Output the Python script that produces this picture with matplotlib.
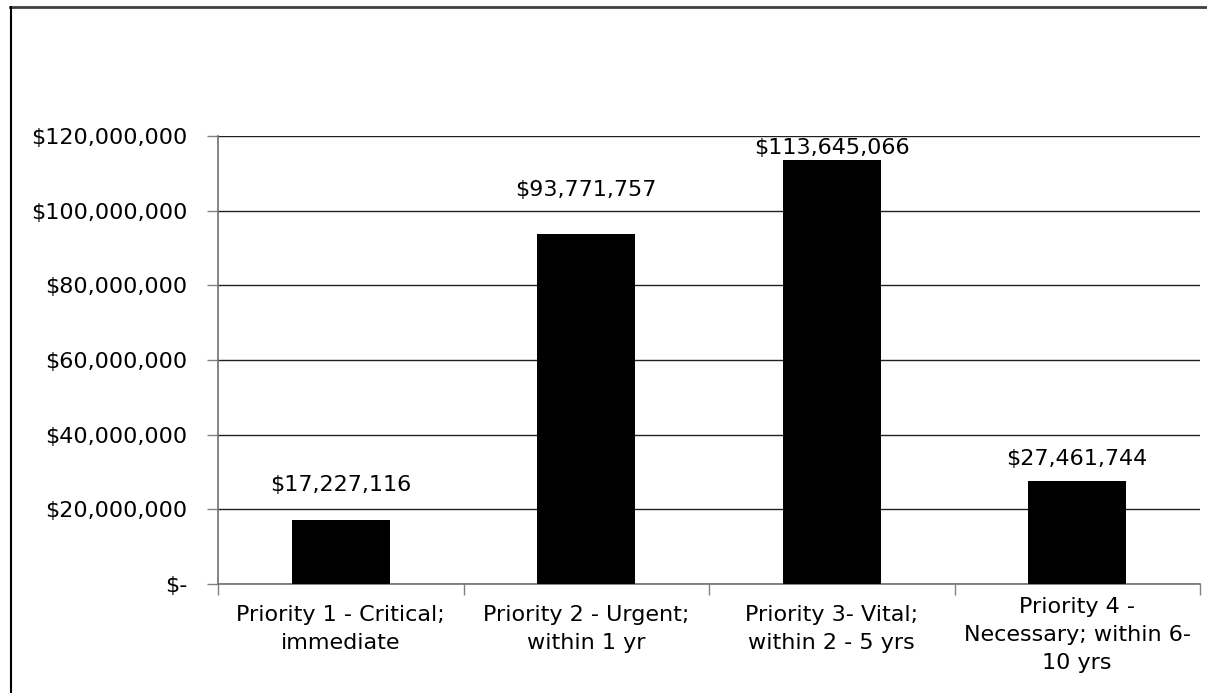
import matplotlib
matplotlib.use("Agg")
import matplotlib.pyplot as plt
from matplotlib.lines import Line2D
from matplotlib.transforms import ScaledTranslation
import numpy as np

categories = ["Priority 1 - Critical;\nimmediate",
              "Priority 2 - Urgent;\nwithin 1 yr",
              "Priority 3- Vital;\nwithin 2 - 5 yrs",
              "Priority 4 -\nNecessary; within 6-\n10 yrs"]
values = [17227116, 93771757, 113645066, 27461744]
value_labels = ["$17,227,116", "$93,771,757", "$113,645,066", "$27,461,744"]
y_ticks = [0, 20000000, 40000000, 60000000, 80000000, 100000000, 120000000]
y_tick_labels = ["$-", "$20,000,000", "$40,000,000", "$60,000,000",
                 "$80,000,000", "$100,000,000", "$120,000,000"]
# vertical offset (pixels) of each value label centre above its bar top
label_offsets_px = [35, 44, 12, 22]

plt.rcParams['font.family'] = ['DejaVu Sans']
W, H = 1207, 693
fig = plt.figure(figsize=(W / 100, H / 100), dpi=100)
ax = fig.add_axes([218 / W, 1 - 584 / H, (1200 - 218) / W, (584 - 136) / H])

x = np.arange(len(values))
ax.bar(x, values, width=0.4, color="black", zorder=3)
ax.set_xlim(-0.5, len(values) - 0.5)
ax.set_ylim(0, 120000000)

ax.set_yticks(y_ticks)
ax.set_yticklabels(y_tick_labels, fontsize=16)
ax.yaxis.grid(True, color="#202020", linewidth=1.0, zorder=0)
ax.tick_params(axis="y", direction="out", length=8, width=1, color="#808080", pad=14)

ax.set_xticks(np.arange(len(values) + 1) - 0.5)
ax.set_xticklabels([])
ax.set_xticks(x, minor=True)
ax.set_xticklabels(categories, minor=True, fontsize=16, linespacing=1.5)
ax.tick_params(axis="x", which="major", direction="out", length=8, width=1, color="#808080")
ax.tick_params(axis="x", which="minor", length=0, pad=15)

lbls = ax.get_xticklabels(minor=True)
lbls[3].set_transform(lbls[3].get_transform() + ScaledTranslation(0, 8 / 100, fig.dpi_scale_trans))

for s in ["top", "right"]:
    ax.spines[s].set_visible(False)
ax.spines["left"].set_color("#707070")
ax.spines["bottom"].set_color("#707070")
ax.spines["left"].set_linewidth(1.2)
ax.spines["bottom"].set_linewidth(1.2)

for xi, v, lab, off in zip(x, values, value_labels, label_offsets_px):
    ax.annotate(lab, (xi, v), xytext=(0, off), textcoords="offset pixels",
                ha="center", va="center", fontsize=16, zorder=4)

fig.add_artist(Line2D([10 / W, 1], [1 - 6.5 / H, 1 - 6.5 / H], color="#404040", linewidth=2,
                      transform=fig.transFigure))
fig.add_artist(Line2D([10.5 / W, 10.5 / W], [0, 1 - 6.5 / H], color="black", linewidth=1.5,
                      transform=fig.transFigure))

fig.savefig("out.png", dpi=100)
